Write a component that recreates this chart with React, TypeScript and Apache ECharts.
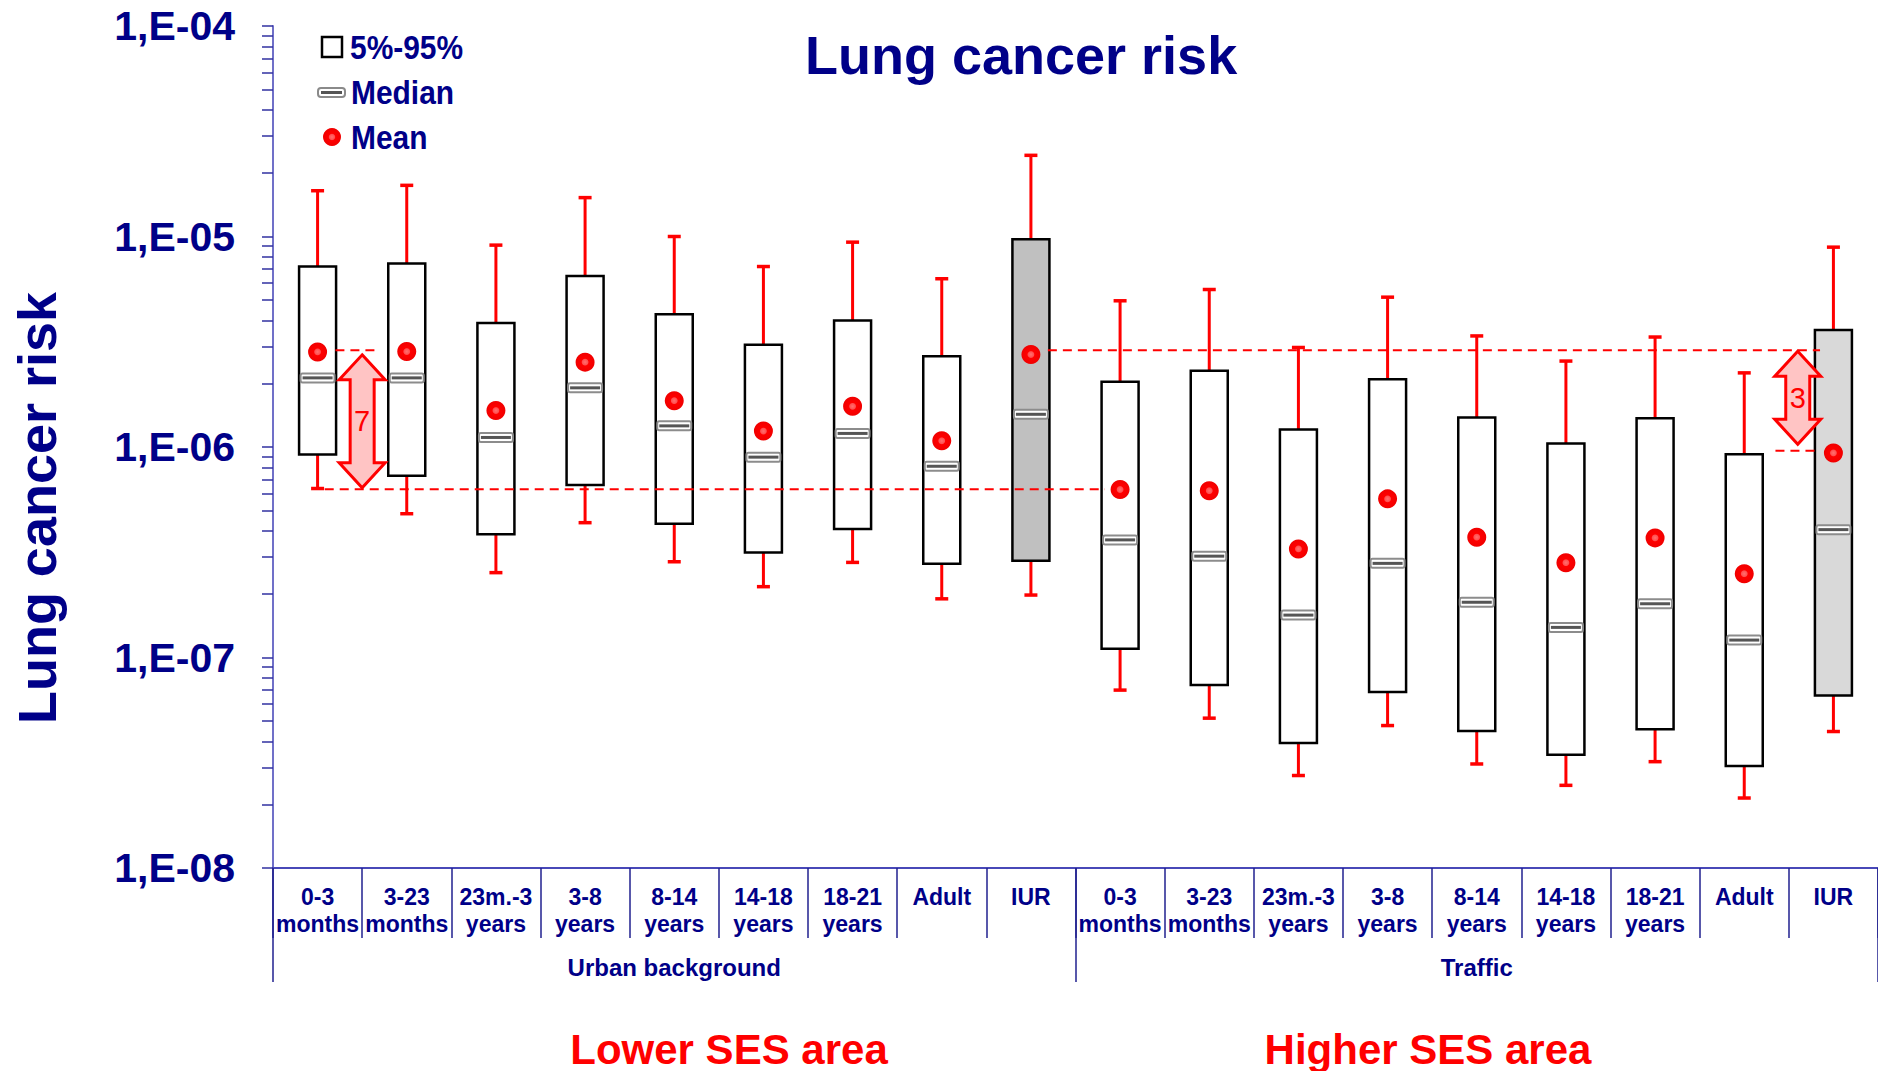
import React, { useEffect, useRef } from "react";
import * as echarts from "echarts";

// ---------- data ----------
const ageLabels = [
  "0-3\nmonths",
  "3-23\nmonths",
  "23m.-3\nyears",
  "3-8\nyears",
  "8-14\nyears",
  "14-18\nyears",
  "18-21\nyears",
  "Adult",
  "IUR",
];
const groups = ["Urban background", "Traffic"];
const categories = [...ageLabels, ...ageLabels];

const whiskerHigh = [
  1.65e-5, 1.75e-5, 9.1e-6, 1.53e-5, 1.0e-5, 7.2e-6, 9.4e-6, 6.3e-6, 2.43e-5,
  4.95e-6, 5.6e-6, 2.97e-6, 5.15e-6, 3.37e-6, 2.56e-6, 3.33e-6, 2.25e-6, 8.9e-6,
];
const p95 = [
  7.2e-6, 7.45e-6, 3.88e-6, 6.5e-6, 4.27e-6, 3.06e-6, 3.99e-6, 2.7e-6, 9.7e-6,
  2.04e-6, 2.3e-6, 1.21e-6, 2.1e-6, 1.38e-6, 1.04e-6, 1.37e-6, 9.25e-7, 3.6e-6,
];
const meanVals = [
  2.83e-6, 2.84e-6, 1.49e-6, 2.53e-6, 1.66e-6, 1.19e-6, 1.56e-6, 1.07e-6, 2.75e-6,
  6.28e-7, 6.2e-7, 3.28e-7, 5.67e-7, 3.73e-7, 2.82e-7, 3.7e-7, 2.5e-7, 9.37e-7,
];
const medianVals = [
  2.13e-6, 2.13e-6, 1.11e-6, 1.91e-6, 1.26e-6, 8.95e-7, 1.16e-6, 8.1e-7, 1.43e-6,
  3.62e-7, 3.03e-7, 1.59e-7, 2.8e-7, 1.83e-7, 1.39e-7, 1.8e-7, 1.21e-7, 4.05e-7,
];
const p5 = [
  9.2e-7, 7.3e-7, 3.85e-7, 6.6e-7, 4.32e-7, 3.15e-7, 4.08e-7, 2.79e-7, 2.88e-7,
  1.1e-7, 7.4e-8, 3.92e-8, 6.85e-8, 4.48e-8, 3.45e-8, 4.56e-8, 3.05e-8, 6.6e-8,
];
const whiskerLow = [
  6.35e-7, 4.82e-7, 2.53e-7, 4.37e-7, 2.85e-7, 2.17e-7, 2.83e-7, 1.9e-7, 1.98e-7,
  7.0e-8, 5.15e-8, 2.75e-8, 4.75e-8, 3.12e-8, 2.47e-8, 3.2e-8, 2.15e-8, 4.45e-8,
];

// reference (dashed) lines, in category units along x
const dashedFrom = [0.2, 8.19, 0.08, 16.35];
const dashedTo = [0.68, 16.85, 8.83, 16.85];
const dashedValue = [2.88e-6, 2.88e-6, 6.3e-7, 9.6e-7];

// ratio arrows
const arrowAt = [0.5, 16.6];
const arrowTop = [2.74e-6, 2.85e-6];
const arrowBottom = [6.4e-7, 1.03e-6];
const arrowText = ["7", "3"];

// y axis ticks
const yDecades = [1e-8, 1e-7, 1e-6, 1e-5, 1e-4];
const minorMultipliers = [2, 3, 4, 5, 6, 7, 8, 9];

// ---------- styles ----------
const NAVY = "#000088";
const FONT = "'Liberation Sans', Arial, Helvetica, sans-serif";

const tickValues: number[] = [];
yDecades.forEach((d, k) => {
  tickValues.push(d);
  if (k < yDecades.length - 1) minorMultipliers.forEach((m) => tickValues.push(d * m));
});

function boxFill(i: number) {
  if (categories[i] !== "IUR") return "#ffffff";
  return i < ageLabels.length ? "#c0c0c0" : "#d9d9d9";
}

function xAt(api: any, pos: number) {
  const base = Math.floor(pos);
  const frac = pos - base;
  return api.coord([base, 1e-6])[0] + frac * api.size([1, 0])[0];
}

const meanGradient = new echarts.graphic.RadialGradient(0.5, 0.5, 0.5, [
  { offset: 0, color: "#ff7070" },
  { offset: 0.3, color: "#ff5050" },
  { offset: 0.4, color: "#ff0000" },
  { offset: 1, color: "#f00000" },
]);

export default function App() {
  const ref = useRef<HTMLDivElement>(null);

  useEffect(() => {
    if (!ref.current) return;
    const chart = echarts.init(ref.current, undefined, { renderer: "svg" });

    const boxData = categories.map((_, i) => [i, whiskerLow[i], p5[i], p95[i], whiskerHigh[i]]);
    const medianData = medianVals.map((v, i) => [i, v]);
    const meanData = meanVals.map((v, i) => [i, v]);
    const dashData = dashedValue.map((v) => [0, v]);
    const arrowData = arrowTop.map((v, k) => [0, v, arrowBottom[k]]);

    const option: any = {
      animation: false,
      backgroundColor: "#ffffff",
      title: {
        text: "Lung cancer risk",
        left: 805,
        top: 28,
        padding: 0,
        textStyle: { fontSize: 54, fontWeight: "bold", color: NAVY, fontFamily: FONT },
      },
      grid: { left: 273, right: 0, top: 26, bottom: 203, containLabel: false },
      xAxis: [
        {
          type: "category",
          data: categories,
          position: "bottom",
          boundaryGap: true,
          axisLine: { show: true, lineStyle: { color: "#4848b8", width: 2 } },
          axisTick: { show: true, length: 70, lineStyle: { color: "#20208f", width: 1.5 } },
          axisLabel: {
            interval: 0,
            fontSize: 23,
            lineHeight: 27,
            fontWeight: "bold",
            color: NAVY,
            fontFamily: FONT,
            margin: 15,
          },
          splitLine: { show: false },
        },
        {
          type: "category",
          data: groups,
          position: "bottom",
          offset: 0,
          boundaryGap: true,
          axisLine: { show: false },
          axisTick: { show: true, length: 114, lineStyle: { color: "#20208f", width: 1.5 } },
          axisLabel: {
            interval: 0,
            fontSize: 24,
            fontWeight: "bold",
            color: NAVY,
            fontFamily: FONT,
            margin: 87,
          },
          splitLine: { show: false },
        },
      ],
      yAxis: {
        type: "log",
        logBase: 10,
        min: 1e-8,
        max: 1e-4,
        name: "Lung cancer risk",
        nameLocation: "middle",
        nameRotate: 90,
        nameGap: 209,
        nameTextStyle: {
          fontSize: 54,
          fontWeight: "bold",
          color: NAVY,
          fontFamily: FONT,
          padding: [0, 122, 0, 0],
        },
        axisLine: { show: true, lineStyle: { color: "#7070c8", width: 2 } },
        axisTick: {
          show: true,
          length: 11,
          lineStyle: { color: "#3030a0", width: 1.5 },
          customValues: tickValues,
        },
        axisLabel: {
          fontSize: 41,
          fontWeight: "bold",
          color: NAVY,
          fontFamily: FONT,
          margin: 38,
          customValues: yDecades,
          formatter: (v: number) => {
            const e = Math.round(Math.log10(v));
            const a = Math.abs(e);
            return `1,E${e < 0 ? "-" : "+"}${a < 10 ? "0" + a : a}`;
          },
        },
        splitLine: { show: false },
      },
      graphic: [
        // legend
        {
          type: "rect",
          shape: { x: 322, y: 37, width: 20, height: 20 },
          style: { fill: "#ffffff", stroke: "#000000", lineWidth: 2.5 },
        },
        {
          type: "text",
          x: 350,
          y: 47,
          scaleX: 0.88,
          style: {
            text: "5%-95%",
            fill: NAVY,
            font: `bold 34px ${FONT}`,
            align: "left",
            verticalAlign: "middle",
            textAlign: "left",
            textVerticalAlign: "middle",
          },
        },
        {
          type: "rect",
          shape: { x: 318, y: 88, width: 27, height: 9, r: 3 },
          style: { fill: "#ffffff", stroke: "#8a8a8a", lineWidth: 2 },
        },
        {
          type: "rect",
          shape: { x: 321, y: 91, width: 21, height: 3 },
          style: { fill: "#555555" },
        },
        {
          type: "text",
          x: 351,
          y: 92,
          scaleX: 0.88,
          style: {
            text: "Median",
            fill: NAVY,
            font: `bold 34px ${FONT}`,
            align: "left",
            verticalAlign: "middle",
            textAlign: "left",
            textVerticalAlign: "middle",
          },
        },
        {
          type: "circle",
          shape: { cx: 332, cy: 137, r: 9 },
          style: { fill: meanGradient },
        },
        {
          type: "text",
          x: 351,
          y: 137,
          scaleX: 0.88,
          style: {
            text: "Mean",
            fill: NAVY,
            font: `bold 34px ${FONT}`,
            align: "left",
            verticalAlign: "middle",
            textAlign: "left",
            textVerticalAlign: "middle",
          },
        },
        // area captions
        {
          type: "text",
          x: 729,
          y: 1049,
          style: {
            text: "Lower SES area",
            fill: "#ff0000",
            font: `bold 42px ${FONT}`,
            align: "center",
            verticalAlign: "middle",
            textAlign: "center",
            textVerticalAlign: "middle",
          },
        },
        {
          type: "text",
          x: 1428,
          y: 1049,
          style: {
            text: "Higher SES area",
            fill: "#ff0000",
            font: `bold 42px ${FONT}`,
            align: "center",
            verticalAlign: "middle",
            textAlign: "center",
            textVerticalAlign: "middle",
          },
        },
      ],
      series: [
        {
          name: "5%-95%",
          type: "custom",
          z: 2,
          encode: { x: 0, y: [1, 2, 3, 4] },
          data: boxData,
          renderItem: (params: any, api: any) => {
            const i = api.value(0);
            const pWL = api.coord([i, api.value(1)]);
            const pBL = api.coord([i, api.value(2)]);
            const pBH = api.coord([i, api.value(3)]);
            const pWH = api.coord([i, api.value(4)]);
            const x = pWL[0];
            const bw = api.size([1, 0])[0] * 0.415;
            const cap = 13;
            const red = { stroke: "#ff0000", lineWidth: 3 };
            const capStyle = { stroke: "#ff0000", lineWidth: 3.5 };
            return {
              type: "group",
              children: [
                { type: "line", shape: { x1: x, y1: pWH[1], x2: x, y2: pBH[1] }, style: red },
                { type: "line", shape: { x1: x, y1: pBL[1], x2: x, y2: pWL[1] }, style: red },
                { type: "line", shape: { x1: x - cap / 2, y1: pWH[1], x2: x + cap / 2, y2: pWH[1] }, style: capStyle },
                { type: "line", shape: { x1: x - cap / 2, y1: pWL[1], x2: x + cap / 2, y2: pWL[1] }, style: capStyle },
                {
                  type: "rect",
                  shape: { x: x - bw / 2, y: pBH[1], width: bw, height: pBL[1] - pBH[1] },
                  style: { fill: boxFill(i), stroke: "#000000", lineWidth: 2.5 },
                },
              ],
            };
          },
        },
        {
          name: "Median",
          type: "custom",
          z: 3,
          encode: { x: 0, y: 1 },
          data: medianData,
          renderItem: (params: any, api: any) => {
            const i = api.value(0);
            const p = api.coord([i, api.value(1)]);
            const bw = api.size([1, 0])[0] * 0.415 - 3;
            return {
              type: "group",
              children: [
                {
                  type: "rect",
                  shape: { x: p[0] - bw / 2, y: p[1] - 4.5, width: bw, height: 9, r: 2 },
                  style: { fill: "#ffffff", stroke: "#8c8c8c", lineWidth: 2 },
                },
                {
                  type: "rect",
                  shape: { x: p[0] - bw / 2 + 2, y: p[1] - 1.5, width: bw - 4, height: 3 },
                  style: { fill: "#555555" },
                },
              ],
            };
          },
        },
        {
          name: "Mean",
          type: "scatter",
          z: 4,
          symbol: "circle",
          symbolSize: 19,
          data: meanData,
          itemStyle: { color: meanGradient, opacity: 1 },
        },
        {
          name: "Reference lines",
          type: "custom",
          z: 5,
          encode: { x: 0, y: 1 },
          data: dashData,
          renderItem: (params: any, api: any) => {
            const k = params.dataIndex;
            const y = api.coord([0, api.value(1)])[1];
            return {
              type: "line",
              shape: { x1: xAt(api, dashedFrom[k]), y1: y, x2: xAt(api, dashedTo[k]), y2: y },
              style: { stroke: "#ff0000", lineWidth: 2, lineDash: [9, 6] },
            };
          },
        },
        {
          name: "Ratio arrows",
          type: "custom",
          z: 6,
          encode: { x: 0, y: [1, 2] },
          data: arrowData,
          renderItem: (params: any, api: any) => {
            const k = params.dataIndex;
            const cx = xAt(api, arrowAt[k]);
            const yT = api.coord([0, api.value(1)])[1];
            const yB = api.coord([0, api.value(2)])[1];
            const hw = 23;
            const sw = 12;
            const hl = 25;
            const pts = [
              [cx, yT],
              [cx + hw, yT + hl],
              [cx + sw, yT + hl],
              [cx + sw, yB - hl],
              [cx + hw, yB - hl],
              [cx, yB],
              [cx - hw, yB - hl],
              [cx - sw, yB - hl],
              [cx - sw, yT + hl],
              [cx - hw, yT + hl],
            ];
            return {
              type: "group",
              children: [
                {
                  type: "polygon",
                  shape: { points: pts },
                  style: { fill: "#ffc4c4", stroke: "#ff0000", lineWidth: 3, lineJoin: "miter" },
                },
                {
                  type: "text",
                  x: cx,
                  y: (yT + yB) / 2,
                  style: {
                    text: arrowText[k],
                    fill: "#ff0000",
                    font: `29px ${FONT}`,
                    align: "center",
                    verticalAlign: "middle",
                    textAlign: "center",
                    textVerticalAlign: "middle",
                  },
                },
              ],
            };
          },
        },
      ],
    };

    chart.setOption(option);
    return () => {
      chart.dispose();
    };
  }, []);

  return (
    <div
      ref={ref}
      style={{ position: "fixed", left: 0, top: 0, width: 1878, height: 1071, background: "#ffffff" }}
    />
  );
}
